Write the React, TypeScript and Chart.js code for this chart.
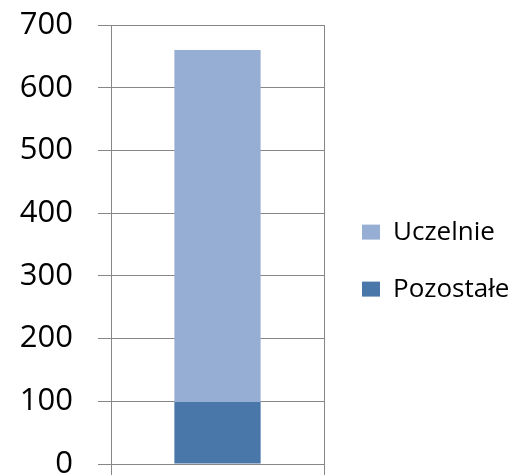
import React, { useEffect, useRef } from "react";
import { Chart, registerables } from "chart.js";

Chart.register(...registerables);

const categories: string[] = [""];
const seriesNames: string[] = ["Pozostałe", "Uczelnie"];
const pozostaleValues: number[] = [99];
const uczelnieValues: number[] = [561];
const yTicks: number[] = [0, 100, 200, 300, 400, 500, 600, 700];

const GRID = "#878787";

export default function App() {
  const ref = useRef<HTMLCanvasElement | null>(null);

  useEffect(() => {
    if (!ref.current) return;
    const chart = new Chart(ref.current, {
      type: "bar",
      data: {
        labels: categories,
        datasets: [
          {
            label: seriesNames[0],
            data: pozostaleValues,
            backgroundColor: "#4a77aa",
            borderWidth: 0,
            barPercentage: 0.405,
            categoryPercentage: 1,
          },
          {
            label: seriesNames[1],
            data: uczelnieValues,
            backgroundColor: "#97aed4",
            borderWidth: 0,
            barPercentage: 0.405,
            categoryPercentage: 1,
          },
        ],
      },
      options: {
        animation: false,
        responsive: true,
        maintainAspectRatio: false,
        layout: { padding: { top: 25, left: 0, right: 0, bottom: 0 } },
        plugins: {
          tooltip: { enabled: false },
          legend: {
            position: "right",
            reverse: true,
            title: {
              display: true,
              text: " ",
              font: { size: 1 },
              padding: { top: 10, bottom: 10 },
            },
            labels: {
              boxWidth: 18,
              boxHeight: 15,
              padding: 31,
              color: "#000000",
              font: { family: "'Open Sans'", size: 26 },
            },
          },
        },
        scales: {
          x: {
            stacked: true,
            grid: {
              display: true,
              offset: true,
              color: GRID,
              tickLength: 11,
              drawTicks: true,
            },
            border: { display: true, color: GRID },
            ticks: { display: false },
          },
          y: {
            stacked: true,
            min: yTicks[0],
            max: yTicks[yTicks.length - 1],
            afterBuildTicks: (scale: any) => {
              scale.ticks = yTicks.map((v) => ({ value: v }));
            },
            afterFit: (scale: any) => {
              scale.width = 111;
              scale.paddingTop = 0;
              scale.paddingBottom = 0;
            },
            grid: { color: GRID, tickLength: 13, drawTicks: true },
            border: { display: true, color: GRID },
            ticks: {
              padding: 25,
              color: "#000000",
              font: { family: "'Open Sans'", size: 31 },
            },
          },
          y2: {
            type: "linear",
            position: "right",
            display: true,
            grid: { display: false, drawTicks: false },
            border: { display: false },
            ticks: { display: false },
            afterFit: (scale: any) => {
              scale.width = 7;
              scale.paddingTop = 0;
              scale.paddingBottom = 0;
            },
          },
        },
      },
    });
    const leg: any = chart.legend;
    if (leg) {
      const origFit = leg.fit.bind(leg);
      leg.fit = () => {
        origFit();
        leg.width = 184;
      };
      chart.update();
    }
    return () => chart.destroy();
  }, []);

  return (
    <div style={{ position: "fixed", left: 0, top: 0, width: 515, height: 475 }}>
      <canvas ref={ref} />
    </div>
  );
}
